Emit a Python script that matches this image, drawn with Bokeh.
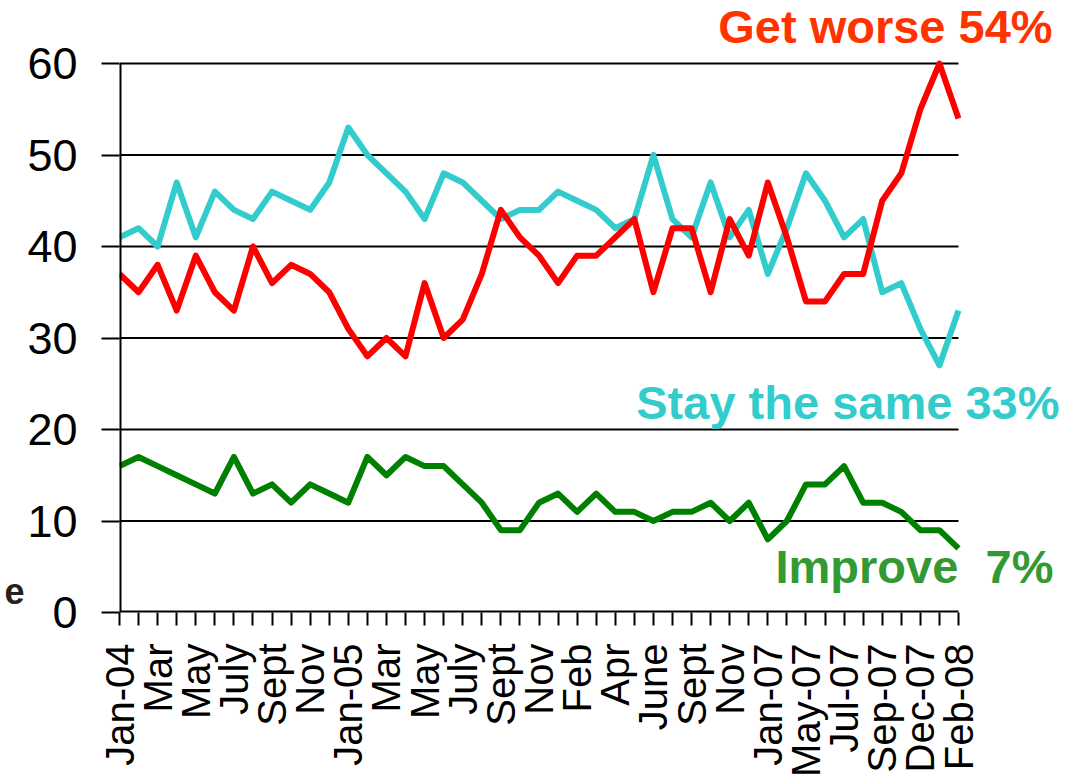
import math
from bokeh.plotting import figure
from bokeh.models import Range1d, FixedTicker, Label, LinearAxis
from bokeh.embed import file_html
from bokeh.resources import INLINE

# ---- data ----
tick_labels = ["Jan-04", "Mar", "May", "July", "Sept", "Nov", "Jan-05", "Mar", "May",
               "July", "Sept", "Nov", "Feb", "Apr", "June", "Sept", "Nov", "Jan-07",
               "May-07", "Jul-07", "Sep-07", "Dec-07", "Feb-08"]

get_worse = [37, 35, 38, 33, 39, 35, 33, 40, 36, 38, 37, 35, 31, 28, 30, 28, 36, 30, 32, 37,
             44, 41, 39, 36, 39, 39, 41, 43, 35, 42, 42, 35, 43, 39, 47, 41, 34, 34, 37, 37,
             45, 48, 55, 60, 54]
stay_same = [41, 42, 40, 47, 41, 46, 44, 43, 46, 45, 44, 47, 53, 50, 48, 46, 43, 48, 47, 45,
             43, 44, 44, 46, 45, 44, 42, 43, 50, 43, 41, 47, 41, 44, 37, 42, 48, 45, 41, 43,
             35, 36, 31, 27, 33]
improve = [16, 17, 16, 15, 14, 13, 17, 13, 14, 12, 14, 13, 12, 17, 15, 17, 16, 16, 14, 12,
           9, 9, 12, 13, 11, 13, 11, 11, 10, 11, 11, 12, 10, 12, 8, 10, 14, 14, 16, 12,
           12, 11, 9, 9, 7]
yticks = [0, 10, 20, 30, 40, 50, 60]

n = len(get_worse)
xs = list(range(n))
last = n - 1
ymax_axis = yticks[-1]

FONT = "Liberation Sans"

W, H = 1073, 780
LEFT, BOTTOM = 119, 168
frame_w = W - LEFT
frame_h = H - BOTTOM
# extend the frame so that the text labels in the margins are not clipped
x_end = last * frame_w / (958 - LEFT)
y_end = ymax_axis * frame_h / (612 - 63)

p = figure(width=W, height=H,
           x_range=Range1d(0, x_end), y_range=Range1d(0, y_end),
           output_backend="svg", toolbar_location=None,
           min_border_left=LEFT, min_border_right=0,
           min_border_top=0, min_border_bottom=BOTTOM)
p.outline_line_color = None
p.background_fill_color = "white"
p.border_fill_color = "white"
p.xgrid.visible = False
p.ygrid.visible = False

# x axis
p.xaxis.ticker = FixedTicker(ticks=xs)
overrides = {}
for i in xs:
    overrides[i] = tick_labels[i // 2] if i % 2 == 0 else ""
p.xaxis.major_label_overrides = overrides
p.xaxis.major_label_orientation = math.pi / 2
p.xaxis.major_label_text_font = FONT
p.xaxis.major_label_text_font_size = "40px"
p.xaxis.major_label_text_color = "black"
p.xaxis.major_tick_out = 13
p.xaxis.major_tick_in = 0
p.xaxis.minor_tick_line_color = None
p.xaxis.axis_line_color = None
p.xaxis.major_tick_line_color = "black"
p.xaxis.major_tick_line_width = 2
p.xaxis.major_label_standoff = 18

# y axis
p.yaxis.ticker = FixedTicker(ticks=yticks)
p.yaxis.major_label_text_font = FONT
p.yaxis.major_label_text_font_size = "45px"
p.yaxis.major_label_text_color = "black"
p.yaxis.major_tick_out = 18
p.yaxis.major_tick_in = 0
p.yaxis.minor_tick_line_color = None
p.yaxis.axis_line_color = None
p.yaxis.major_tick_line_color = "black"
p.yaxis.major_tick_line_width = 2
p.yaxis.major_label_standoff = 24

# stray bold "e" at far left, as a second (label-only) axis
p.extra_y_ranges = {"side": Range1d(0, y_end)}
side = LinearAxis(y_range_name="side", ticker=FixedTicker(ticks=[2.4]),
                  major_label_overrides={2.4: "e"},
                  axis_line_color=None, major_tick_line_color=None,
                  minor_tick_line_color=None, major_tick_out=0, major_tick_in=0,
                  major_label_standoff=0, major_label_text_font=FONT,
                  major_label_text_font_size="36px",
                  major_label_text_font_style="bold",
                  major_label_text_color="#222222")
p.add_layout(side, "left")

# gridlines (only across the plotted categories)
gy = yticks[1:]
p.segment(x0=[0] * len(gy), y0=gy, x1=[last] * len(gy), y1=gy,
          line_color="black", line_width=2)

# lines
p.line(xs, improve, line_color="#008000", line_width=6, line_join="round")
p.line(xs, stay_same, line_color="#33CCCC", line_width=6, line_join="round")
p.line(xs, get_worse, line_color="#FF0000", line_width=6, line_join="round")

# axis lines
p.segment(x0=[0, 0], y0=[0, 0], x1=[last, 0], y1=[0, ymax_axis],
          line_color="black", line_width=4)

# annotations
def lab(x, y, text, color, size="47px"):
    p.add_layout(Label(x=x, y=y, text=text, text_color=color, text_font=FONT,
                       text_font_size=size, text_font_style="bold",
                       text_baseline="alphabetic", text_align="left"))

lab(31.4, 64.0, "Get worse 54%", "#FF3300")
lab(27.1, 23.0, "Stay the same 33%", "#33CCCC")
lab(34.4, 5.0, "Improve", "#339933")
lab(45.42, 5.0, "7%", "#339933")

open("out.html", "w").write(file_html(p, INLINE))
